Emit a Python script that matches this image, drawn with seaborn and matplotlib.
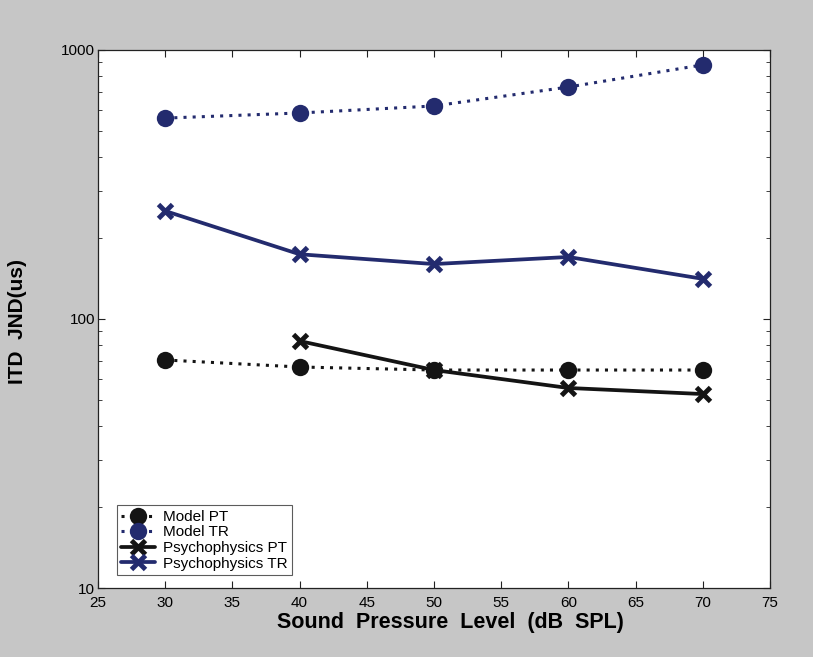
import matplotlib
matplotlib.use("Agg")
import matplotlib.pyplot as plt
import seaborn as sns
import pandas as pd
import numpy as np

spl = [30, 40, 50, 60, 70]
model_pt = [70.4, 66.3, 64.6, 64.6, 64.6]
model_tr = [558, 583, 619, 728, 880]
psych_pt_x = [40, 50, 60, 70]
psych_pt = [82.8, 64.6, 55.4, 52.6]
psych_tr = [252, 174, 160, 170, 141]

navy = "#232b6e"
black = "#141414"

sns.set_style("ticks")
plt.rcParams['font.family'] = ['Liberation Sans', 'DejaVu Sans']

fig = plt.figure(figsize=(8.13, 6.57), dpi=100, facecolor="#c6c6c6")
ax = fig.add_axes([0.1205, 0.105, 0.8265, 0.819])
ax.set_facecolor("white")

def draw(x, y, color, marker, ls, label, ms, mew=0, z=2):
    df = pd.DataFrame({"x": x, "y": y})
    n = len(ax.lines)
    sns.lineplot(data=df, x="x", y="y", ax=ax, color=color, linestyle=ls,
                 linewidth=2.7 if ls == "-" else 2.2, marker=marker, markersize=ms,
                 markeredgewidth=mew, markeredgecolor=color, label=label)
    for ln in ax.lines[n:]:
        ln.set_zorder(z)

dotted = (0, (1, 2))
draw(spl, model_pt, black, "o", dotted, "Model PT", 12.5, z=5)
draw(spl, model_tr, navy, "o", dotted, "Model TR", 12.5, z=5)
draw(psych_pt_x, psych_pt, black, "x", "-", "Psychophysics PT", 9.5, 3.5, z=3)
draw(spl, psych_tr, navy, "x", "-", "Psychophysics TR", 9.5, 3.5, z=3)

ax.set_yscale("log")
ax.set_ylim(10, 1000)
ax.set_xlim(25, 75)
ax.set_xticks(np.arange(25, 76, 5))
ax.set_yticks([10, 100, 1000])
ax.set_yticklabels(["10", "100", "1000"])
ax.tick_params(which="both", direction="in", top=True, right=True, labelsize=11,
               colors="#222222", labelcolor="black")
ax.tick_params(axis="x", pad=6)
ax.tick_params(axis="y", pad=2)
ax.tick_params(which="major", length=5)
ax.tick_params(which="minor", length=3)
for s in ax.spines.values():
    s.set_linewidth(0.9)
    s.set_color("#222222")

ax.set_xlabel("Sound  Pressure  Level  (dB  SPL)", fontsize=15.5, fontweight="bold",
              color="black")
ax.xaxis.set_label_coords(0.524, -0.045)
ax.set_ylabel("ITD  JND(us)", fontsize=15, fontweight="bold", color="black")
ax.yaxis.set_label_coords(-0.105, 0.495)

leg = ax.legend(loc="lower left", bbox_to_anchor=(0.028, 0.024), fontsize=11,
                frameon=True, fancybox=False, edgecolor="#333333", borderpad=0.3,
                labelspacing=0.1, handlelength=2.2, handletextpad=0.5, borderaxespad=0.0)
leg.get_frame().set_linewidth(0.8)
leg.set_zorder(10)
for t in leg.get_texts():
    t.set_color("black")

fig.savefig("out.png", dpi=100, facecolor=fig.get_facecolor())
